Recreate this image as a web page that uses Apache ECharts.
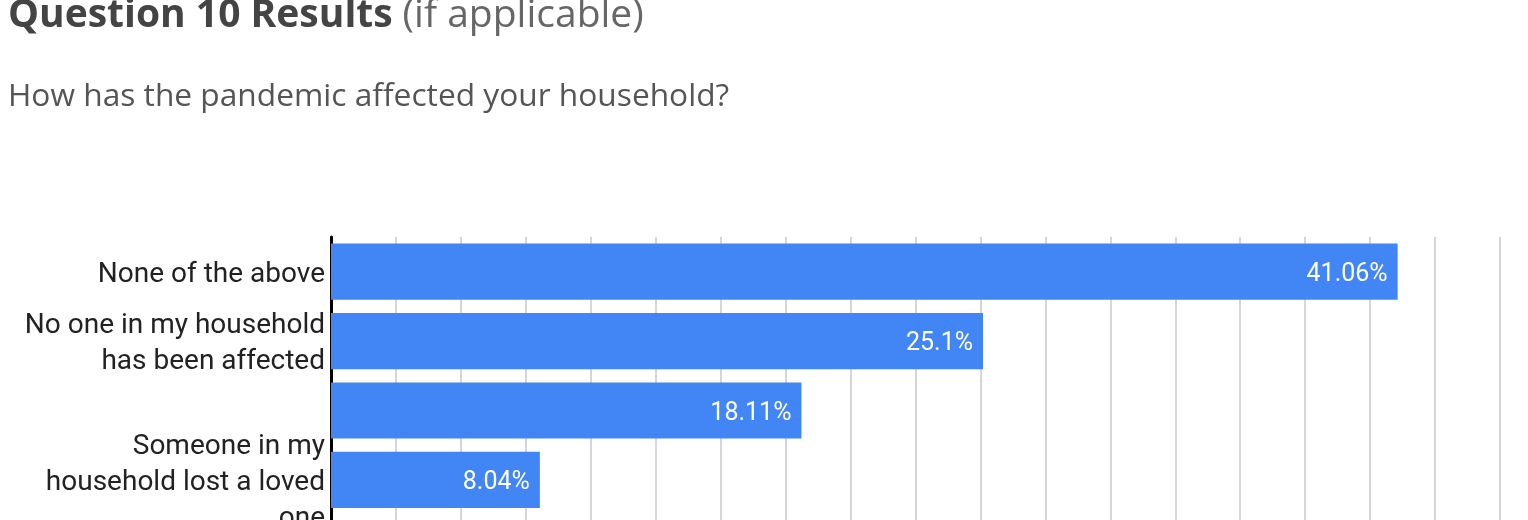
<!DOCTYPE html>
<html>
<head>
<meta charset="utf-8">
<script src="https://cdn.jsdelivr.net/npm/echarts@6/dist/echarts.min.js"></script>
<style>
html,body{margin:0;padding:0;background:#fff;overflow:hidden;}
#chart{width:1528px;height:600px;}
</style>
</head>
<body>
<div id="chart"></div>
<script>
const titleMain = 'Question 10 Results';
const titleNote = '(if applicable)';
const subtitle = 'How has the pandemic affected your household?';
const categories = [
  'None of the above',
  'No one in my household has been affected',
  '',
  'Someone in my household lost a loved one'
];
const values = [41.06, 25.1, 18.11, 8.04];
const valueLabels = ['41.06%', '25.1%', '18.11%', '8.04%'];

// word-wrap a label to a maximum width using canvas text measurement
const measureCtx = document.createElement('canvas').getContext('2d');
function wrapLabel(text, font, maxWidth) {
  if (!text) return '';
  measureCtx.font = font;
  const words = text.split(' ');
  const lines = [];
  let cur = '';
  words.forEach(w => {
    const test = cur ? cur + ' ' + w : w;
    if (cur && measureCtx.measureText(test).width > maxWidth) {
      lines.push(cur);
      cur = w;
    } else {
      cur = test;
    }
  });
  if (cur) lines.push(cur);
  return lines.map(l => '{t|' + l + '}').join('\n');
}

const chart = echarts.init(document.getElementById('chart'), null, {renderer: 'canvas'});
chart.setOption({
  animation: false,
  title: [
    {
      left: 8, top: -4, padding: 0,
      text: '{b|' + titleMain + '}  {n|' + titleNote + '}',
      textStyle: {
        rich: {
          b: {fontFamily: 'Open Sans', fontWeight: 'bold', fontSize: 39, color: '#444444'},
          n: {fontFamily: 'Open Sans', fontWeight: 'normal', fontSize: 39, color: '#666666'}
        }
      }
    },
    {
      left: 8, top: 81, padding: 0,
      text: subtitle,
      textStyle: {fontFamily: 'Open Sans', fontWeight: 'normal', fontSize: 31.7, color: '#555555'}
    }
  ],
  grid: {left: 331, right: 28, top: 237, bottom: 16, containLabel: false},
  xAxis: {
    type: 'value', min: 0, max: 45, interval: 2.5,
    axisLine: {show: false}, axisTick: {show: false},
    axisLabel: {show: false},
    splitLine: {show: true, lineStyle: {color: '#d6d6d6', width: 2}}
  },
  yAxis: {
    type: 'category', inverse: true, data: categories, max: 4,
    axisLine: {show: true, lineStyle: {color: '#000000', width: 3}},
    axisTick: {show: false},
    axisLabel: {
      interval: 0, margin: 6, align: 'right',
      formatter: v => {
        const w = wrapLabel(v, '28px Roboto', 305);
        return w ? '{s| }\n' + w : '';
      },
      rich: {
        s: {fontSize: 1, lineHeight: 6, height: 6},
        t: {fontFamily: 'Roboto', fontSize: 28, lineHeight: 36, color: '#222222', align: 'right'}
      }
    }
  },
  series: [{
    type: 'bar',
    data: values,
    barCategoryGap: '19%',
    itemStyle: {color: '#4285F4'},
    label: {
      show: true, position: 'insideRight', distance: 10, offset: [0, 3],
      fontFamily: 'Roboto', fontSize: 25, color: '#ffffff',
      formatter: p => valueLabels[p.dataIndex]
    }
  }]
});
</script>
</body>
</html>
